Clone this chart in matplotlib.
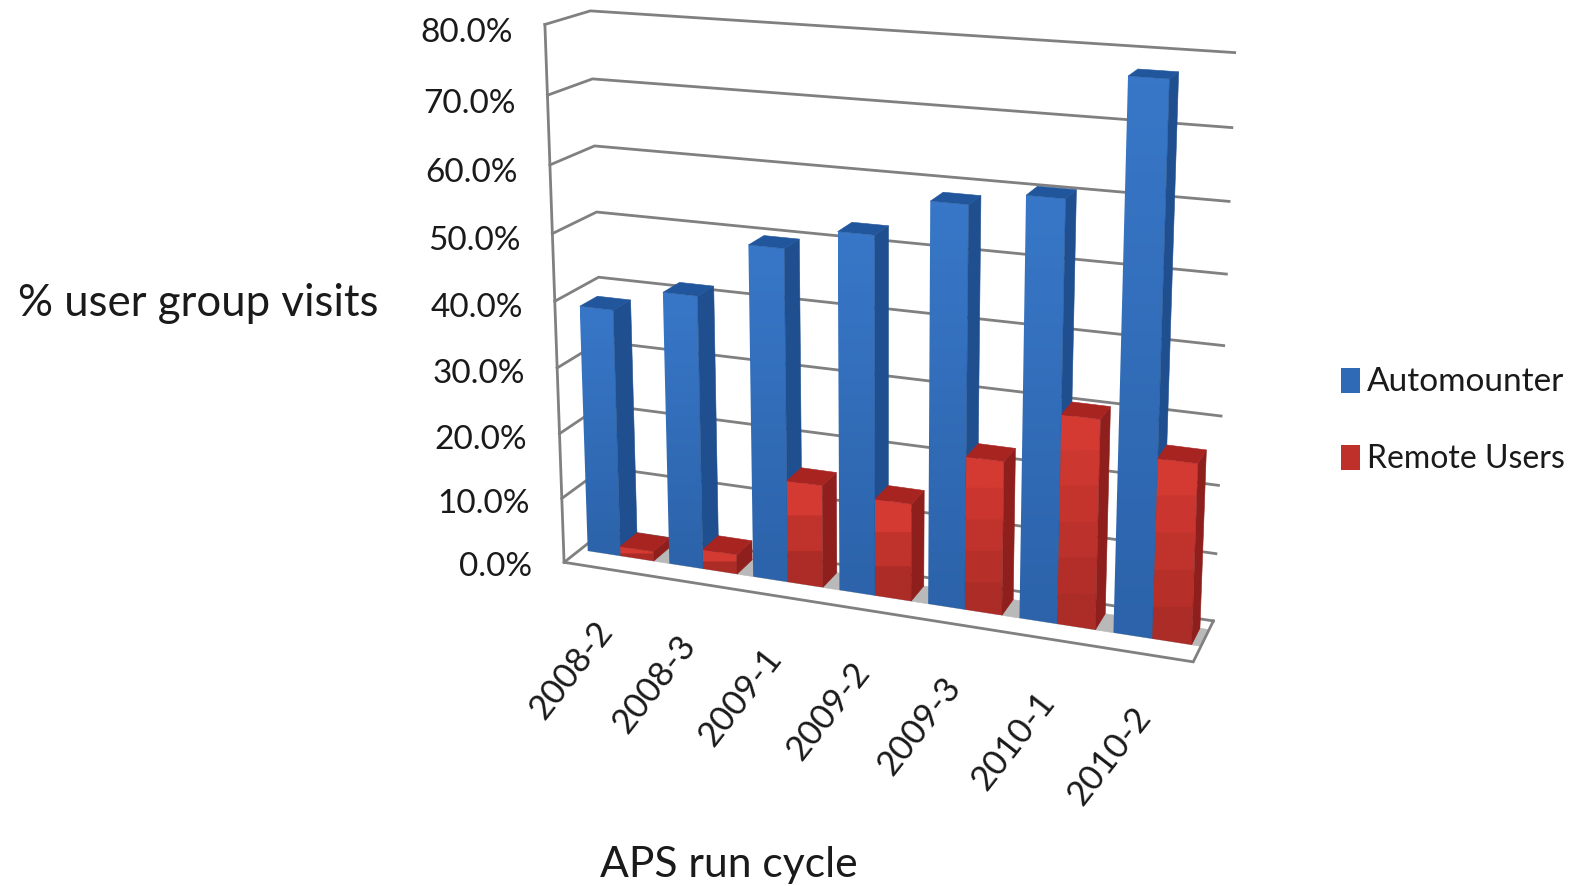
#!/usr/bin/env python3
"""Perspective 3-D column chart: automounter and remote users per APS run cycle."""

import numpy as np
import matplotlib
matplotlib.use("Agg")
import matplotlib.pyplot as plt
from matplotlib.colors import LinearSegmentedColormap
from matplotlib.patches import Polygon, Rectangle

# ── data ─────────────────────────────────────────────────────────────────────
cycles = ["2008-2", "2008-3", "2009-1", "2009-2", "2009-3", "2010-1", "2010-2"]
automounter = [38.0, 41.5, 49.8, 53.0, 58.5, 60.5, 77.5]
remote_users = [1.5, 3.0, 15.5, 14.6, 22.7, 30.5, 26.0]
y_ticks = [0, 10, 20, 30, 40, 50, 60, 70, 80]

# ── look ─────────────────────────────────────────────────────────────────────
FONT = "Lato"
GRID = "#808080"
W, H = 1570, 886

# camera: known box corners (category, depth, percent) -> pixel
BOX = [(0, 0, 0), (0, 0, 40), (0, 0, 80), (0, 1, 80), (0, 1, 40), (0, 1, 0),
       (7, 1, 80), (7, 1, 40), (7, 1, 0), (7, 0, 0)]
PIX = [(564, 562), (555, 300), (545, 25), (590, 11), (598, 277), (607, 530),
       (1235, 53), (1224, 345), (1213, 620), (1193, 663)]


def fit_camera(box, pix):
    rows = []
    for (x, d, z), (u, v) in zip(box, pix):
        q = [x, d, z, 1]
        rows.append(q + [0, 0, 0, 0] + [-u * c for c in q])
        rows.append([0, 0, 0, 0] + q + [-v * c for c in q])
    return np.linalg.svd(np.array(rows, float))[2][-1].reshape(3, 4)


CAM = fit_camera(BOX, PIX)


def proj(x, d, z):
    p = CAM @ np.array([x, d, z, 1.0])
    return p[0] / p[2], p[1] / p[2]


fig = plt.figure(figsize=(W / 100, H / 100), dpi=100)
ax = fig.add_axes([0, 0, 1, 1])
ax.axis("off")


def face(pts, color, z=3):
    return ax.add_patch(Polygon([proj(*p) for p in pts], closed=True, facecolor=color,
                                edgecolor=color, linewidth=0.4, zorder=z))


def wall_line(pts):
    xy = np.array([proj(*p) for p in pts])
    ax.plot(xy[:, 0], xy[:, 1], color=GRID, lw=2.0, zorder=2, solid_joinstyle="miter")


# ── walls and floor ──────────────────────────────────────────────────────────
n = len(cycles)
BAR_W, GAP = 0.405, 0.095
D0, D1 = 0.37, 0.78

face([(GAP, D0, 0), (n, D0, 0), (n, D1, 0), (GAP, D1, 0)], "#b9b9b9", z=1)
for t in y_ticks:
    wall_line([(0, 0, t), (0, 1, t), (n, 1, t)])
    u, v = proj(0, 0, t)
    ax.text(u - 32, v + 5 + t * 0.05, f"{t:.1f}%", ha="right", va="center",
            fontsize=24, family=FONT, color="#1a1a1a", zorder=5)
wall_line([(0, 0, 80), (0, 0, 0), (n, 0, 0), (n, 1, 0)])

# ── bars ─────────────────────────────────────────────────────────────────────
blue_front = LinearSegmentedColormap.from_list("b", ["#2c63aa", "#3877c8"])
red_front = LinearSegmentedColormap.from_list("r", ["#ac2c27", "#d43a32"])


def bar(x0, val, cmap, side, top, bands, z):
    x1 = x0 + BAR_W
    front = face([(x0, D0, 0), (x1, D0, 0), (x1, D0, val), (x0, D0, val)], "none", z=z)
    front.set_edgecolor("none")
    xy = front.get_xy()
    # vertical shading, clipped to the projected front face
    levels = np.floor(np.linspace(bands - 1e-6, 0, 256)) / max(bands - 1, 1)
    grad = cmap(levels)[:, None, :]
    im = ax.imshow(grad, extent=(xy[:, 0].min(), xy[:, 0].max(),
                                 xy[:, 1].max(), xy[:, 1].min()),
                   aspect="auto", zorder=z, interpolation="bilinear")
    im.set_clip_path(front)
    face([(x1, D0, 0), (x1, D1, 0), (x1, D1, val), (x1, D0, val)], side, z=z)
    face([(x0, D0, val), (x1, D0, val), (x1, D1, val), (x0, D1, val)], top, z=z)


for i in range(n):
    bar(i + GAP, automounter[i], blue_front, "#1f4f8e", "#22569c", 64, 3 + 2 * i)
    bar(i + GAP + BAR_W, remote_users[i], red_front, "#8e1f1d", "#a82421",
        max(2, round(remote_users[i] / 5)), 4 + 2 * i)

# ── labels ───────────────────────────────────────────────────────────────────
for i, lab in enumerate(cycles):
    u, v = proj(i + 0.5, 0, 0)
    ax.text(u + 1, v + 57, lab, rotation=52, rotation_mode="anchor", ha="right",
            va="center", fontsize=25, family=FONT, color="#1a1a1a")

ax.text(198, 303, "% user group visits", ha="center", va="center",
        fontsize=31.5, family=FONT, color="#1a1a1a")
ax.text(729, 865, "APS run cycle", ha="center", va="center",
        fontsize=30.7, family=FONT, color="#1a1a1a")

# ── legend ───────────────────────────────────────────────────────────────────
for name, c, size, yc in [("Automounter", "#2f6ab6", 24, 380), ("Remote Users", "#bf302b", 23, 457)]:
    ax.add_patch(Rectangle((1341, yc - 12), 19, 25, facecolor=c, edgecolor="none"))
    ax.text(1367, yc + 2, name, ha="left", va="center", fontsize=size, family=FONT,
            color="#1a1a1a")

ax.set_xlim(0, W)
ax.set_ylim(H, 0)
fig.savefig("out.png", dpi=100)
